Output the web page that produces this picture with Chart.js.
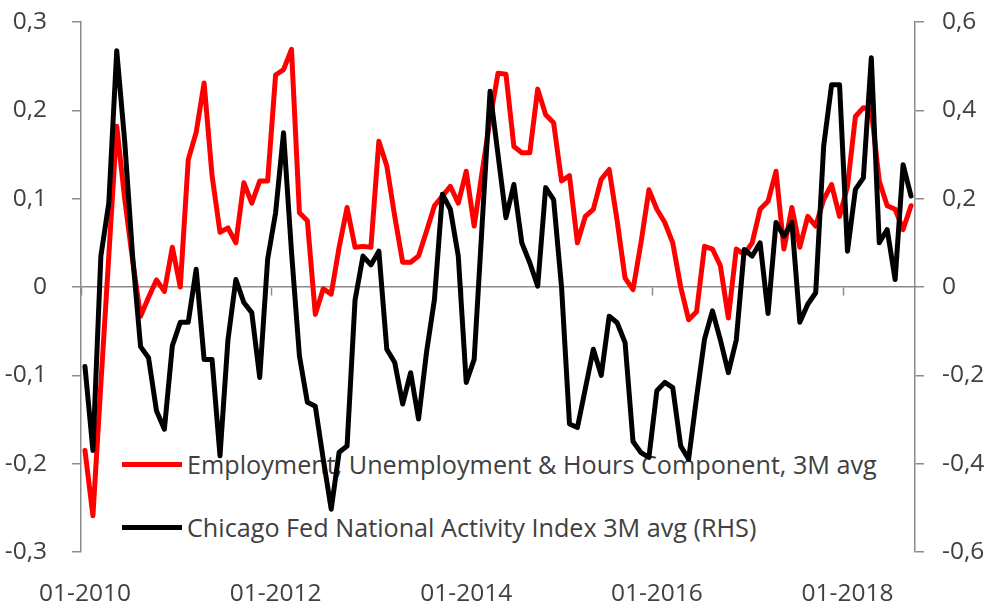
<!DOCTYPE html>
<html><head><meta charset="utf-8">
<script src="https://cdn.jsdelivr.net/npm/chart.js@4.4.1/dist/chart.umd.min.js"></script>
<style>
html,body{margin:0;padding:0;background:#fff;}
#wrap{position:relative;width:992px;height:605px;overflow:hidden;background:#fff;}
#legend{position:absolute;left:0;top:0;width:992px;height:605px;z-index:0;font-family:'Open Sans',sans-serif;color:#404040;font-size:25.2px;}
.item{position:absolute;left:122px;height:30px;line-height:30px;display:flex;align-items:center;white-space:nowrap;}
.sw{width:60px;height:5px;margin-right:5px;}
canvas{position:absolute;left:0;top:0;z-index:1;}
</style></head>
<body><div id="wrap"><div id="legend"></div><canvas id="c" width="992" height="605"></canvas></div>
<script>
// Category months 01-2010 .. 09-2018
const startYear = 2010;
const monthCount = 105;
const months = [];
for (let i = 0; i < monthCount; i++) {
  const y = startYear + Math.floor(i / 12), m = (i % 12) + 1;
  months.push(String(m).padStart(2, '0') + '-' + y);
}
const tickLabels = ['01-2010', '01-2012', '01-2014', '01-2016', '01-2018'];

const seriesNames = ['Employment, Unemployment & Hours Component, 3M avg', 'Chicago Fed National Activity Index 3M avg (RHS)'];
const seriesColors = ['#ff0000', '#000000'];

// Employment, Unemployment & Hours Component, 3M avg (left axis)
const employment = [
 -0.185,-0.259,-0.11,0.035,0.182,0.1,0.03,-0.033,-0.012,0.008,
 -0.005,0.045,0.0,0.144,0.175,0.231,0.126,0.062,0.067,0.05,
 0.118,0.095,0.12,0.12,0.24,0.246,0.269,0.084,0.075,-0.031,
 -0.002,-0.008,0.045,0.09,0.045,0.046,0.045,0.165,0.137,0.08,
 0.028,0.028,0.035,0.063,0.092,0.103,0.114,0.095,0.131,0.069,
 0.13,0.19,0.242,0.241,0.159,0.152,0.152,0.224,0.195,0.186,
 0.12,0.126,0.05,0.08,0.088,0.122,0.133,0.075,0.01,-0.003,
 0.05,0.11,0.088,0.073,0.05,0.0,-0.037,-0.028,0.046,0.043,
 0.024,-0.035,0.043,0.037,0.05,0.088,0.097,0.131,0.043,0.09,
 0.045,0.08,0.069,0.099,0.116,0.08,0.114,0.193,0.203,0.2,
 0.12,0.092,0.088,0.065,0.092
];

// Chicago Fed National Activity Index 3M avg (right axis)
const cfnai = [
 -0.18,-0.37,0.07,0.19,0.535,0.33,0.07,-0.135,-0.16,-0.28,
 -0.322,-0.133,-0.08,-0.08,0.04,-0.164,-0.164,-0.382,-0.12,0.017,
 -0.035,-0.058,-0.205,0.063,0.168,0.349,0.08,-0.156,-0.261,-0.27,
 -0.39,-0.503,-0.374,-0.36,-0.03,0.07,0.05,0.081,-0.141,-0.171,
 -0.265,-0.194,-0.299,-0.148,-0.028,0.21,0.176,0.07,-0.216,-0.164,
 0.14,0.443,0.3,0.157,0.232,0.1,0.055,0.002,0.225,0.198,
 0.0,-0.31,-0.318,-0.23,-0.141,-0.2,-0.066,-0.081,-0.126,-0.35,
 -0.375,-0.386,-0.235,-0.216,-0.228,-0.36,-0.39,-0.25,-0.118,-0.054,
 -0.12,-0.194,-0.12,0.085,0.07,0.1,-0.06,0.146,0.115,0.146,
 -0.08,-0.039,-0.013,0.319,0.458,0.458,0.081,0.221,0.247,0.519,
 0.1,0.13,0.017,0.277,0.206
];

// HTML legend (behind the plotted lines, as in the reference)
const legendTops = [449, 512];
const legendEl = document.getElementById('legend');
seriesNames.forEach((n, k) => {
  const it = document.createElement('div');
  it.className = 'item';
  it.style.top = legendTops[k] + 'px';
  const sw = document.createElement('span');
  sw.className = 'sw';
  sw.style.background = seriesColors[k];
  const tx = document.createElement('span');
  tx.textContent = n;
  it.appendChild(sw); it.appendChild(tx);
  legendEl.appendChild(it);
});

const axisGray = '#8c8c8c';
const textGray = '#404040';
const fmt = v => { const r = Math.round(v * 10) / 10; return r === 0 ? '0' : String(r).replace('.', ','); };

Chart.defaults.font.family = "'Open Sans', sans-serif";
Chart.defaults.color = textGray;

new Chart(document.getElementById('c'), {
  type: 'line',
  data: {
    labels: months,
    datasets: [
      { label: seriesNames[1], data: cfnai, yAxisID: 'y1', xAxisID: 'x', borderColor: seriesColors[1], borderWidth: 5, pointRadius: 0, tension: 0, borderJoinStyle: 'round', borderCapStyle: 'round', fill: false },
      { label: seriesNames[0], data: employment, yAxisID: 'y', xAxisID: 'x', borderColor: seriesColors[0], borderWidth: 5, pointRadius: 0, tension: 0, borderJoinStyle: 'round', borderCapStyle: 'round', fill: false }
    ]
  },
  options: {
    responsive: false,
    animation: false,
    devicePixelRatio: 1,
    layout: { padding: { top: 22, left: 0, right: 0, bottom: 0 } },
    plugins: { legend: { display: false }, tooltip: { enabled: false } },
    scales: {
      x: {
        type: 'category', position: 'bottom', offset: true,
        grid: { display: false }, border: { display: false },
        ticks: { autoSkip: false, maxRotation: 0, minRotation: 0, padding: 19,
          font: { size: 24.5 }, color: textGray,
          callback: function(v, i) { const l = months[i]; return tickLabels.includes(l) ? l : ''; } },
        afterFit: s => { s.height = 53; }
      },
      x0: {
        type: 'category', position: { y: 0 }, offset: true,
        ticks: { display: false },
        grid: { display: true, drawOnChartArea: false, drawTicks: true, tickLength: 8, offset: true, tickWidth: 1.5,
          tickColor: ctx => (ctx.index % 24 === 0 ? axisGray : 'rgba(0,0,0,0)') },
        border: { display: true, color: axisGray, width: 1.5 }
      },
      y: {
        position: 'left', min: -0.3, max: 0.3,
        ticks: { stepSize: 0.1, padding: 25, font: { size: 24.5 }, color: textGray, callback: v => fmt(v) },
        grid: { drawOnChartArea: false, drawTicks: true, tickLength: 9, color: axisGray, lineWidth: 1.5 },
        border: { display: true, color: axisGray, width: 1.5 },
        afterFit: s => { s.width = 81; s.paddingTop = 0; s.paddingBottom = 0; }
      },
      y1: {
        position: 'right', min: -0.6, max: 0.6,
        ticks: { stepSize: 0.2, padding: 18, font: { size: 24.5 }, color: textGray, callback: v => fmt(v) },
        grid: { drawOnChartArea: false, drawTicks: true, tickLength: 9, color: axisGray, lineWidth: 1.5 },
        border: { display: true, color: axisGray, width: 1.5 },
        afterFit: s => { s.width = 77; s.paddingTop = 0; s.paddingBottom = 0; }
      }
    }
  }
});
</script>
</body></html>
